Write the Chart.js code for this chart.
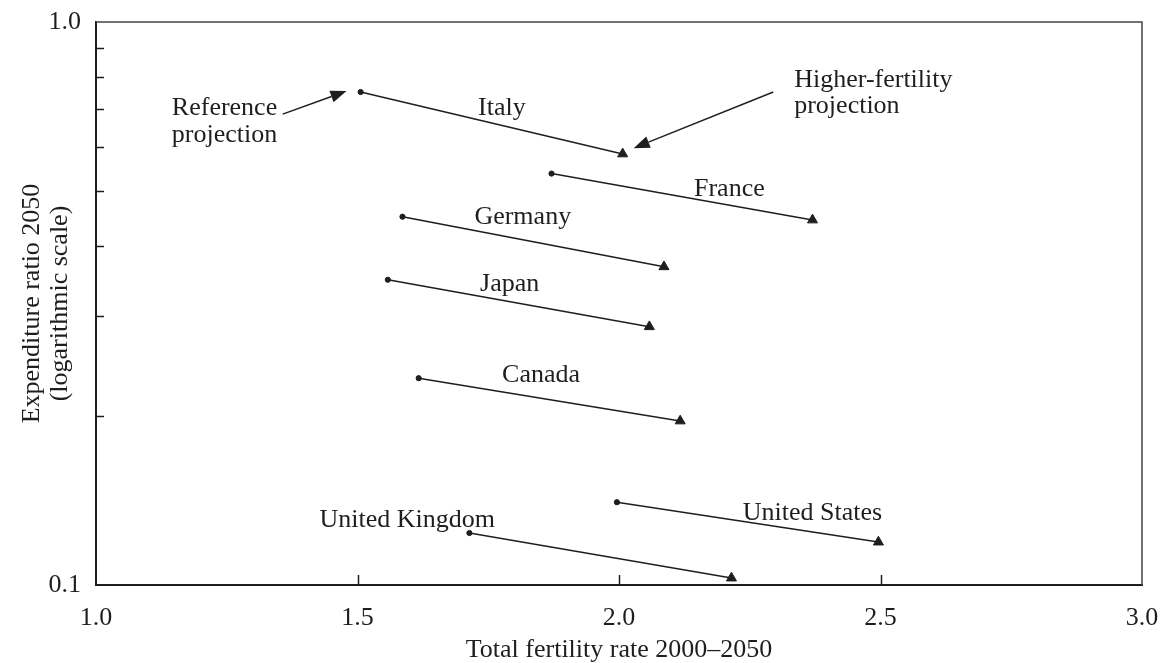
<!DOCTYPE html>
<html>
<head>
<meta charset="utf-8">
<script src="https://cdn.jsdelivr.net/npm/chart.js@4.4.1/dist/chart.umd.min.js"></script>
<style>
  html, body { margin: 0; padding: 0; background: #fff; }
  #wrap { width: 1161px; height: 663px; position: relative; }
</style>
</head>
<body>
<div id="wrap"><canvas id="c" width="1161" height="663"></canvas></div>
<script>
// ---- Data ----
const countries = ["Italy", "France", "Germany", "Japan", "Canada", "United States", "United Kingdom"];
// Reference projection: [total fertility rate, expenditure ratio]
const refTFR   = [1.506, 1.871, 1.586, 1.558, 1.617, 1.996, 1.714];
const refRatio = [0.751, 0.538, 0.451, 0.3485, 0.233, 0.1403, 0.1237];
// Higher-fertility projection
const highTFR   = [2.007, 2.370, 2.086, 2.058, 2.117, 2.496, 2.215];
const highRatio = [0.583, 0.445, 0.3675, 0.2876, 0.1956, 0.1192, 0.1029];

// Country labels (data coordinates: x, y of text baseline, centred)
const labelX = [1.776, 2.211, 1.816, 1.791, 1.851, 2.370, 1.595];
const labelY = [0.684, 0.490, 0.438, 0.333, 0.2297, 0.1305, 0.1269];

// Axis ticks
const xTicks = [1.0, 1.5, 2.0, 2.5, 3.0];
const yTicks = [0.1, 0.2, 0.3, 0.4, 0.5, 0.6, 0.7, 0.8, 0.9, 1.0];
const yLabelled = [0.1, 1.0];

// Legend-style annotations (data coordinates)
const refNoteLines = ["Reference", "projection"];
const refNoteAt = { x: 1.145, y: [0.684, 0.612] };
const refArrow = { from: [1.357, 0.686], to: [1.479, 0.754] };
const highNoteLines = ["Higher-fertility", "projection"];
const highNoteAt = { x: 2.335, y: [0.767, 0.689] };
const highArrow = { from: [2.295, 0.751], to: [2.028, 0.597] };

const FONT = "'Liberation Serif', 'Times New Roman', serif";
const FS = 26;
const INK = "#1e1e1e";

const datasets = countries.map((name, i) => ({
  label: name,
  data: [{ x: refTFR[i], y: refRatio[i] }, { x: highTFR[i], y: highRatio[i] }],
  showLine: true,
  borderColor: INK,
  borderWidth: 1.5,
  backgroundColor: INK,
  pointBackgroundColor: INK,
  pointBorderColor: INK,
  pointBorderWidth: 1,
  pointStyle: ['circle', 'triangle'],
  pointRadius: [2.6, 5.8],
  pointHoverRadius: [2.6, 5.8]
}));

const decorPlugin = {
  id: 'decor',
  afterDatasetsDraw(chart) {
    const ctx = chart.ctx;
    const xs = chart.scales.x, ys = chart.scales.y;
    const a = chart.chartArea;
    ctx.save();
    // inward tick marks
    ctx.strokeStyle = INK;
    ctx.lineWidth = 1.5;
    yTicks.forEach(v => {
      if (v === yTicks[0] || v === yTicks[yTicks.length - 1]) return;
      const py = Math.round(ys.getPixelForValue(v)) + 0.5;
      ctx.beginPath(); ctx.moveTo(a.left, py); ctx.lineTo(a.left + 8, py); ctx.stroke();
    });
    xTicks.forEach(v => {
      if (v === xTicks[0] || v === xTicks[xTicks.length - 1]) return;
      const px = Math.round(xs.getPixelForValue(v)) + 0.5;
      ctx.beginPath(); ctx.moveTo(px, a.bottom); ctx.lineTo(px, a.bottom - 10); ctx.stroke();
    });
    // top and right frame
    ctx.strokeStyle = "#444";
    ctx.lineWidth = 1.5;
    ctx.beginPath();
    ctx.moveTo(a.left, a.top); ctx.lineTo(a.right, a.top); ctx.lineTo(a.right, a.bottom);
    ctx.stroke();

    // country labels
    ctx.fillStyle = INK;
    ctx.font = FS + "px " + FONT;
    ctx.textAlign = 'center';
    ctx.textBaseline = 'alphabetic';
    countries.forEach((name, i) => {
      ctx.fillText(name, xs.getPixelForValue(labelX[i]), ys.getPixelForValue(labelY[i]));
    });
    // annotation notes
    ctx.textAlign = 'left';
    refNoteLines.forEach((t, k) => ctx.fillText(t, xs.getPixelForValue(refNoteAt.x), ys.getPixelForValue(refNoteAt.y[k])));
    highNoteLines.forEach((t, k) => ctx.fillText(t, xs.getPixelForValue(highNoteAt.x), ys.getPixelForValue(highNoteAt.y[k])));

    // arrows
    function arrow(ar) {
      const x1 = xs.getPixelForValue(ar.from[0]), y1 = ys.getPixelForValue(ar.from[1]);
      const x2 = xs.getPixelForValue(ar.to[0]), y2 = ys.getPixelForValue(ar.to[1]);
      const ang = Math.atan2(y2 - y1, x2 - x1);
      const hl = 16, hw = 6;
      const bx = x2 - hl * Math.cos(ang), by = y2 - hl * Math.sin(ang);
      ctx.strokeStyle = INK; ctx.lineWidth = 1.5;
      ctx.beginPath(); ctx.moveTo(x1, y1); ctx.lineTo(bx, by); ctx.stroke();
      ctx.beginPath();
      ctx.moveTo(x2, y2);
      ctx.lineTo(bx + hw * Math.sin(ang), by - hw * Math.cos(ang));
      ctx.lineTo(bx - hw * Math.sin(ang), by + hw * Math.cos(ang));
      ctx.closePath(); ctx.fill();
    }
    arrow(refArrow);
    arrow(highArrow);
    ctx.restore();
  }
};

new Chart(document.getElementById('c'), {
  type: 'scatter',
  data: { datasets },
  options: {
    responsive: false,
    animation: false,
    events: [],
    layout: { padding: { left: 18, top: 22, right: 19, bottom: 0 } },
    plugins: { legend: { display: false }, tooltip: { enabled: false } },
    scales: {
      x: {
        type: 'linear',
        min: 1, max: 3,
        afterBuildTicks: s => { s.ticks = xTicks.map(v => ({ value: v })); },
        afterFit: s => { s.height = 78; s.paddingLeft = 0; s.paddingRight = 0; },
        ticks: {
          autoSkip: false, maxRotation: 0,
          padding: 18,
          color: INK,
          font: { family: FONT, size: FS },
          callback: v => Number(v).toFixed(1)
        },
        grid: { display: false, drawTicks: false },
        border: { display: true, color: INK, width: 2 },
        title: {
          display: true,
          text: "Total fertility rate 2000\u20132050",
          color: INK,
          font: { family: FONT, size: FS, lineHeight: 1.0 },
          padding: { top: 3, bottom: 0 }
        }
      },
      y: {
        type: 'logarithmic',
        min: 0.1, max: 1.0,
        afterBuildTicks: s => { s.ticks = yTicks.map(v => ({ value: v })); },
        afterFit: s => { s.width = 78; s.paddingTop = 0; s.paddingBottom = 0; },
        ticks: {
          autoSkip: false,
          padding: 15,
          color: INK,
          font: { family: FONT, size: FS },
          callback: v => yLabelled.some(l => Math.abs(l - v) < 1e-9) ? Number(v).toFixed(1) : ''
        },
        grid: { display: false, drawTicks: false },
        border: { display: true, color: INK, width: 2 },
        title: {
          display: true,
          text: ["Expenditure ratio 2050", "(logarithmic scale)"],
          color: INK,
          font: { family: FONT, size: FS, lineHeight: 1.08 },
          padding: { top: 0, bottom: 0 }
        }
      }
    }
  },
  plugins: [decorPlugin]
});
</script>
</body>
</html>
